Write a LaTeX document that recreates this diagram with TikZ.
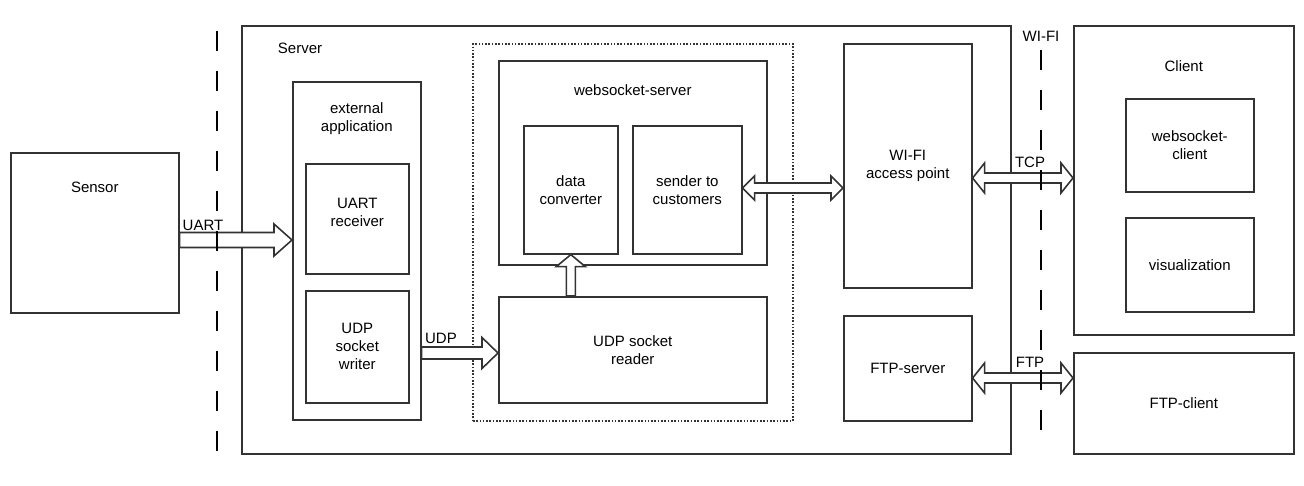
\documentclass[tikz,border=0pt]{standalone}
\usepackage{fontspec}
\setmainfont{Liberation Sans}
\usetikzlibrary{calc,positioning}

\tikzset{
  blk/.style={draw=black!80, line width=1.6pt, anchor=north west, inner sep=0pt, align=center},
  hollow/.style={draw=black!80, line width=1.6pt, fill=white, line join=miter},
  cut/.style={draw=black, line width=2pt, dash pattern=on 20pt off 20pt},
  grp/.style={draw=black!80, line width=1.8pt, dash pattern=on 1.6pt off 1.7pt},
}

% block arrow, one head: from, to, shaft half, head half, head length
\newcommand{\harrow}[5]{%
  \draw[hollow] let \p1=(#1), \p2=(#2) in
    (\x1,\y1+#3) -- (\x2-#5,\y1+#3) -- (\x2-#5,\y1+#4) -- (\x2,\y1)
    -- (\x2-#5,\y1-#4) -- (\x2-#5,\y1-#3) -- (\x1,\y1-#3) -- cycle;}
% block arrow, two heads
\newcommand{\dharrow}[5]{%
  \draw[hollow] let \p1=(#1), \p2=(#2) in
    (\x1,\y1) -- (\x1+#5,\y1+#4) -- (\x1+#5,\y1+#3) -- (\x2-#5,\y1+#3)
    -- (\x2-#5,\y1+#4) -- (\x2,\y1) -- (\x2-#5,\y1-#4) -- (\x2-#5,\y1-#3)
    -- (\x1+#5,\y1-#3) -- (\x1+#5,\y1-#4) -- cycle;}

\begin{document}
\begin{tikzpicture}[x=1pt,y=-1pt,every node/.style={font=\fontsize{15}{18}\selectfont}]
    \useasboundingbox (0,0) rectangle (1304,485);

    % sensor and server
    \node[blk, minimum width=168pt, minimum height=160pt] (sensor) at (10,152) {};
    \node at ([yshift=-35pt]sensor.north) {Sensor};
    \node[blk, minimum width=769pt, minimum height=428pt] (server) at (241,25) {};
    \node at (300,48) {Server};

    \node[blk, minimum width=128pt, minimum height=338pt] (ext) at (292,81) {};
    \node[align=center] at ([yshift=-38pt]ext.north) {external\\application};
    \node[blk, minimum width=103pt, minimum height=110pt] (uartrx) at (305,163) {};
    \node[align=center] at ([yshift=6pt]uartrx.center) {UART\\receiver};
    \node[blk, minimum width=103pt, minimum height=112pt] (udpw) at (305,290) {UDP\\socket\\writer};

    \node[blk, grp, minimum width=320pt, minimum height=377pt] (grp) at (472,43) {};
    \node[blk, minimum width=268pt, minimum height=204pt] (ws) at (498,60) {};
    \node at ([yshift=-30pt]ws.north) {websocket-server};
    \node[blk, minimum width=94pt, minimum height=128pt] (conv) at (523,125) {data\\converter};
    \node[blk, minimum width=109pt, minimum height=128pt] (send) at (632,125) {sender to\\customers};
    \node[blk, minimum width=268pt, minimum height=106pt] (udpr) at (498,296) {UDP socket\\reader};

    \node[blk, minimum width=128pt, minimum height=244pt] (wifi) at (843,43) {WI-FI\\access point};
    \node[blk, minimum width=128pt, minimum height=105pt] (ftps) at (843,315) {FTP-server};

    % client side
    \node[blk, minimum width=220pt, minimum height=309pt] (client) at (1073,25) {};
    \node at ([yshift=-41pt]client.north) {Client};
    \node[blk, minimum width=128pt, minimum height=93pt] (wsc) at (1125,98) {websocket-\\client};
    \node[blk, minimum width=128pt, minimum height=94pt] (vis) at (1125,217) {visualization};
    \node[blk, minimum width=220pt, minimum height=101pt] (ftpc) at (1073,352) {FTP-client};

    % arrows
    \coordinate (uartin) at (sensor.east |- 0,240);
    \harrow{uartin}{ext.west}{7.5pt}{16pt}{18pt}
    \node at (203,225) {UART};
    \coordinate (udpout) at (ext.east |- 0,353);
    \harrow{udpout}{udpr.west}{6pt}{15.5pt}{16pt}
    \node at (441,338) {UDP};
    \coordinate (rdout) at (conv.south |- udpr.north);
    \draw[hollow] let \p1=(rdout), \p2=(conv.south) in
        (\x1-4.5pt,\y1) -- (\x1-4.5pt,\y2-12pt) -- (\x1-14.5pt,\y2-12pt) -- (\x1,\y2)
        -- (\x1+14.5pt,\y2-12pt) -- (\x1+4.5pt,\y2-12pt) -- (\x1+4.5pt,\y1) -- cycle;
    \coordinate (wsout) at (send.east |- 0,188);
    \dharrow{wsout}{wifi.west}{5pt}{12pt}{12pt}
    \coordinate (tcpout) at (wifi.east |- 0,178);
    \dharrow{tcpout}{client.west}{5pt}{15pt}{12pt}
    \node at (1030,162) {TCP};
    \coordinate (ftpout) at (ftps.east |- 0,378);
    \dharrow{ftpout}{ftpc.west}{5pt}{15pt}{12pt}
    \node at (1030,362) {FTP};

    % borders
    \coordinate (cuta) at (217,31);
    \coordinate (cutb) at (217,451);
    \draw[cut] (cuta) -- (cutb);
    \coordinate (cutc) at (1041,50);
    \coordinate (cutd) at (1041,430);
    \draw[cut] (cutc) -- (cutd);
    \node at (1041,36) {WI-FI};
\end{tikzpicture}
\end{document}
